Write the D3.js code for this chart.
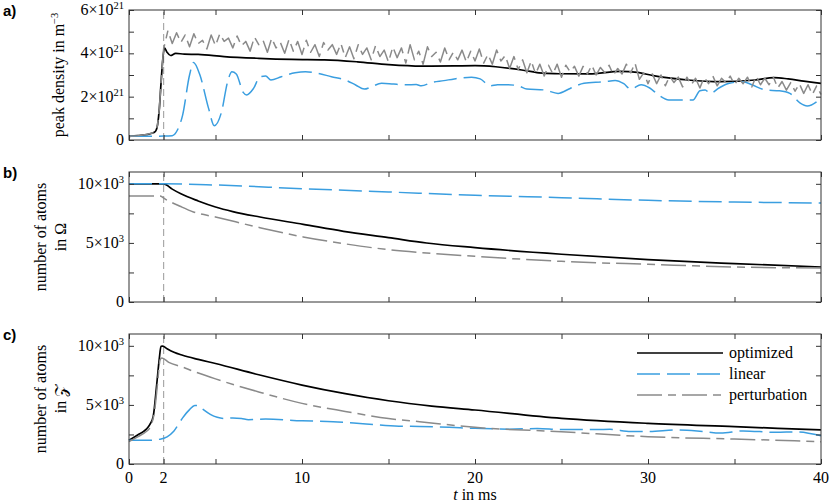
<!DOCTYPE html>
<html>
<head>
<meta charset="utf-8">
<script src="https://cdn.jsdelivr.net/npm/d3@7"></script>
<style>
  body { margin: 0; background: #fff; }
</style>
</head>
<body>
<script>
// time axis
var tTicks = [0, 2, 5, 10, 15, 20, 25, 30, 35, 40];
var tLabels = [0, 2, 10, 20, 30, 40];
var legendNames = ["optimized", "linear", "perturbation"];

// a) peak density in 1e21 m^-3
var optA_t = [0, 0.5, 1.0, 1.4, 1.55, 1.65, 1.75, 1.85, 1.95, 2.05, 2.2, 2.4, 2.7, 3.2, 4, 5.5, 7.5, 9.4, 11.3, 13.2, 15, 16.9, 18.8, 20, 21.2, 22.7, 23.7, 24.6, 26.6, 28.4, 29.4, 30.3, 32.3, 34.2, 36.2, 37.3, 38.1, 39, 40];
var optA_v = [0.17, 0.2, 0.25, 0.33, 0.42, 0.7, 1.4, 2.6, 3.7, 4.25, 4.05, 3.9, 4.0, 3.96, 3.95, 3.85, 3.77, 3.72, 3.7, 3.61, 3.48, 3.41, 3.42, 3.43, 3.38, 3.23, 3.1, 3.06, 3.05, 3.17, 3.12, 2.97, 2.77, 2.69, 2.77, 2.88, 2.82, 2.72, 2.61];
var linA_t = [0, 1, 2, 2.5, 2.8, 3.1, 3.5, 3.73, 4.1, 4.6, 4.93, 5.35, 5.7, 5.95, 6.2, 6.6, 6.8, 7.2, 7.57, 7.9, 8.2, 8.8, 9.6, 10.2, 10.9, 11.7, 12.5, 13.1, 13.6, 14.0, 14.6, 15.3, 16, 16.6, 16.9, 17.5, 18.2, 18.8, 19.8, 20.3, 20.9, 21.3, 21.9, 22.5, 23, 24, 24.8, 25.5, 26.3, 27.5, 28.1, 28.6, 29, 29.6, 30.1, 30.6, 31.2, 32, 32.6, 33, 33.3, 33.6, 34.1, 34.7, 35.5, 36, 36.8, 37.6, 38.2, 38.8, 39.2, 40];
var linA_v = [0.17, 0.17, 0.18, 0.2, 0.46, 1.15, 3.0, 3.58, 3.0, 1.46, 0.66, 1.3, 2.69, 3.15, 3.05, 2.2, 2.08, 2.38, 2.92, 2.95, 2.77, 2.92, 3.1, 3.15, 3.08, 2.92, 2.77, 2.54, 2.35, 2.45, 2.62, 2.58, 2.55, 2.56, 2.5, 2.66, 2.74, 2.82, 2.9, 2.82, 2.5, 2.55, 2.55, 2.5, 2.35, 2.31, 2.15, 2.38, 2.62, 2.69, 2.75, 2.6, 2.35, 2.55, 2.4, 2.08, 1.85, 1.85, 1.85, 2.27, 2.31, 2.15, 2.4, 2.62, 2.69, 2.55, 2.31, 2.27, 2.15, 1.7, 1.57, 1.92];
// perturbation: ramp, then samples every 0.25 ms from t = 2
var pertA_t = [0, 0.5, 1.0, 1.4, 1.55, 1.65, 1.75, 1.85, 1.95].concat(d3.range(2, 40.001, 0.25));
var pertA_v = [0.17, 0.2, 0.25, 0.33, 0.42, 0.7, 1.4, 2.6, 3.7,
  4.2, 5.05, 4.45, 4.95,  4.5, 4.85, 4.3, 4.9,  4.45, 4.6, 4.2, 4.85,  4.35, 4.9, 4.55, 4.7,
  4.25, 4.8, 4.35, 4.55,  4.1, 4.75, 4.4, 4.6,  4.05, 4.7, 4.25, 4.5,  4.0, 4.65, 4.1, 4.55,
  3.95, 4.6, 4.05, 4.4,  3.85, 4.5, 4.15, 4.4,  3.95, 4.45, 3.8, 4.3,  3.75, 4.4, 3.95, 4.25,
  3.7, 4.35, 3.85, 4.15,  3.6, 4.3, 3.8, 4.25,  3.55, 4.4, 3.7, 4.1,  3.5, 4.3, 3.85, 4.05,
  3.6, 4.25, 3.7, 4.05,  3.7, 4.15, 3.6, 4.1,  3.65, 4.2, 3.55, 3.95,  3.5, 4.15, 3.65, 3.9,
  3.3, 3.85, 3.25, 3.7,  3.1, 3.65, 3.05, 3.5,  2.95, 3.45, 3.05, 3.5,  2.9, 3.45, 3.15, 3.4,
  2.95, 3.4, 3.05, 3.45,  3.0, 3.35, 3.1, 3.45,  3.0, 3.3, 3.05, 3.5,  3.1, 3.55, 2.8, 3.1,
  2.6, 3.05, 2.6, 3.0,  2.5, 2.95, 2.65, 2.9,  2.45, 2.9, 2.55, 2.85,  2.4, 2.9, 2.6, 2.95,
  2.5, 2.85, 2.65, 2.95,  2.55, 2.85, 2.6, 2.9,  2.45, 2.95, 2.55, 2.85,  2.55, 2.9, 2.4, 2.7,
  2.3, 2.65, 2.25, 2.6,  2.15, 2.55, 2.1, 2.5,  2.1];

// b) number of atoms in Omega, 1e3
var optB_t = [0, 1, 2, 2.5, 3, 4, 5, 6, 7.57, 10.07, 12.4, 15, 17.2, 20, 25, 30, 35, 40];
var optB_v = [10, 10, 10, 9.55, 9.15, 8.55, 8.04, 7.65, 7.19, 6.57, 5.98, 5.45, 4.99, 4.6, 4.04, 3.58, 3.25, 2.96];
var linB_t = [0, 1, 2, 5, 10, 15, 20, 25, 30, 35, 40];
var linB_v = [10, 10, 10, 9.9, 9.59, 9.31, 9.03, 8.83, 8.6, 8.46, 8.38];
var pertB_t = [0, 1, 1.8, 2.1, 2.95, 3.72, 5, 7.57, 10.07, 12.4, 15, 17.2, 20, 25, 30, 35, 40];
var pertB_v = [8.97, 8.97, 8.97, 8.7, 8.1, 7.62, 7.19, 6.29, 5.5, 4.94, 4.43, 4.15, 3.87, 3.44, 3.19, 2.96, 2.88];

// c) number of atoms in Z, 1e3
var optC_t = [0, 0.5, 1.0, 1.2, 1.4, 1.6, 1.75, 1.85, 1.95, 2.2, 2.6, 3.1, 4, 5, 7.5, 10, 12.5, 15, 17.5, 20, 25, 30, 35, 40];
var optC_v = [2.0, 2.45, 2.95, 3.33, 4.03, 6.7, 8.9, 9.96, 9.98, 9.75, 9.45, 9.2, 8.85, 8.5, 7.55, 6.68, 5.95, 5.35, 4.9, 4.57, 3.86, 3.44, 3.16, 2.88];
var linC_t = [0, 1, 1.8, 2.2, 2.6, 3.1, 3.5, 3.8, 4.0, 4.3, 4.7, 5.1, 5.5, 6.0, 6.5, 6.9, 7.9, 10, 11.8, 13.7, 15.6, 16.8, 18.5, 20, 22, 23.6, 25, 27.8, 29, 30, 31.7, 33, 34.2, 35.5, 37.4, 38.6, 40];
var linC_v = [2.0, 2.0, 2.1, 2.3, 2.8, 3.9, 4.6, 4.95, 4.95, 4.6, 4.2, 3.95, 3.85, 3.9, 3.85, 3.75, 3.8, 3.66, 3.58, 3.38, 3.2, 3.18, 3.1, 3.02, 2.95, 3.0, 2.91, 2.93, 2.75, 2.75, 2.88, 2.78, 2.62, 2.8, 2.68, 2.72, 2.39];
var pertC_t = [0, 0.5, 1.0, 1.2, 1.5, 1.65, 1.8, 1.9, 2.3, 3.1, 3.7, 5, 7.5, 10, 12.5, 15, 16.8, 20, 25, 30, 35, 40];
var pertC_v = [1.9, 2.3, 2.75, 3.05, 4.74, 6.8, 8.83, 8.97, 8.6, 8.2, 7.86, 7.2, 6.1, 5.13, 4.45, 3.85, 3.58, 3.1, 2.73, 2.31, 2.11, 1.89];

var W = 831, H = 504;
var left = 129, right = 821, ph = 130;
var serif = "'Liberation Serif', 'Times New Roman', 'DejaVu Serif', serif";
var blue = "#3a9ee0", grey = "#8a8a8a", axc = "#333";
var styles = {
  opt:  { stroke: "#000", width: 1.7, dash: null },
  lin:  { stroke: blue, width: 1.5, dash: "23,7" },
  pert: { stroke: grey, width: 1.5, dash: "25,6,8,6" }
};

var svg = d3.select("body").append("svg")
    .attr("width", W)
    .attr("height", H)
    .style("font-family", serif);

function label(sel) {
  return sel.append("text").style("font-family", serif).attr("font-size", 16);
}

var x = d3.scaleLinear().domain([0, 40]).range([left, right]);

var panels = [
  { top: 10, ymax: 6, ticks: [0, 1, 2, 3, 4, 5, 6], labels: [0, 2, 4, 6], exp: "21", tag: "a)",
    series: [["opt", optA_t, optA_v], ["lin", linA_t, linA_v], ["pert", pertA_t, pertA_v, d3.curveLinear]] },
  { top: 172, ymax: 11, ticks: [0, 2.5, 5, 7.5, 10], labels: [0, 5, 10], exp: "3", tag: "b)",
    series: [["opt", optB_t, optB_v], ["lin", linB_t, linB_v], ["pert", pertB_t, pertB_v]] },
  { top: 334, ymax: 11, ticks: [0, 2.5, 5, 7.5, 10], labels: [0, 5, 10], exp: "3", tag: "c)",
    series: [["opt", optC_t, optC_v], ["lin", linC_t, linC_v], ["pert", pertC_t, pertC_v]] }
];

panels.forEach(function(p) {
  var y = d3.scaleLinear().domain([0, p.ymax]).range([p.top + ph, p.top]);
  var g = svg.append("g");

  // marker line at t = 2 ms
  g.append("line")
    .attr("x1", x(2)).attr("x2", x(2))
    .attr("y1", y(0)).attr("y2", y(p.ymax))
    .attr("stroke", "#aaa")
    .attr("stroke-width", 1.2)
    .attr("stroke-dasharray", "7,4");

  p.series.forEach(function(s) {
    var st = styles[s[0]];
    var line = d3.line()
      .x(function(d) { return x(d[0]); })
      .y(function(d) { return y(d[1]); })
      .curve(s[3] || d3.curveMonotoneX);
    g.append("path")
      .datum(d3.zip(s[1], s[2]))
      .attr("d", line)
      .attr("fill", "none")
      .attr("stroke", st.stroke)
      .attr("stroke-width", st.width)
      .attr("stroke-dasharray", st.dash)
      .attr("stroke-linejoin", "round");
  });

  // ticks on all four sides, pointing inwards
  var axes = [
    [d3.axisBottom(x).tickValues(tTicks), "translate(0," + y(0) + ")"],
    [d3.axisTop(x).tickValues(tTicks), "translate(0," + p.top + ")"],
    [d3.axisLeft(y).tickValues(p.ticks), "translate(" + left + ",0)"],
    [d3.axisRight(y).tickValues(p.ticks), "translate(" + right + ",0)"]
  ];
  axes.forEach(function(a) {
    var ax = g.append("g")
      .attr("transform", a[1])
      .call(a[0].tickSize(-5).tickFormat(""));
    ax.select(".domain").remove();
    ax.selectAll("line").attr("stroke", axc);
  });

  g.append("rect")
    .attr("x", left).attr("y", p.top)
    .attr("width", right - left).attr("height", ph)
    .attr("fill", "none")
    .attr("stroke", axc)
    .attr("stroke-width", 1);

  // y tick labels like 4x10^21
  p.labels.forEach(function(v) {
    var t = label(g)
      .attr("x", left - 5)
      .attr("y", y(v) + 5)
      .attr("text-anchor", "end");
    if (v === 0) {
      t.text("0");
    } else {
      t.append("tspan").text(v + "\u00d710");
      t.append("tspan").attr("font-size", 10.5).attr("dy", -6).text(p.exp);
    }
  });

  // panel tag
  svg.append("text")
    .attr("x", 3)
    .attr("y", p.top + 6)
    .style("font-family", "'Liberation Sans', Arial, sans-serif")
    .attr("font-weight", "bold")
    .attr("font-size", 15)
    .text(p.tag);
});

// y axis titles
var ta = label(svg)
  .attr("transform", "translate(64," + (panels[0].top + ph / 2) + ") rotate(-90)")
  .attr("text-anchor", "middle");
ta.append("tspan").text("peak density in m");
ta.append("tspan").attr("font-size", 10.5).attr("dy", -6).text("\u22123");

[[panels[1], "in \u03a9"], [panels[2], "in \ud835\udcb5"]].forEach(function(d) {
  var cy = d[0].top + ph / 2;
  label(svg)
    .attr("transform", "translate(46," + cy + ") rotate(-90)")
    .attr("text-anchor", "middle")
    .text("number of atoms");
  label(svg)
    .attr("transform", "translate(66," + cy + ") rotate(-90)")
    .attr("text-anchor", "middle")
    .text(d[1]);
});

// x tick labels and title under the last panel
var yBot = panels[2].top + ph;
tLabels.forEach(function(v) {
  label(svg)
    .attr("x", x(v))
    .attr("y", yBot + 19)
    .attr("text-anchor", "middle")
    .text(v);
});
var xt = label(svg)
  .attr("x", x(20))
  .attr("y", yBot + 36)
  .attr("text-anchor", "middle");
xt.append("tspan").attr("font-style", "italic").text("t");
xt.append("tspan").text(" in ms");

// legend in panel c
["opt", "lin", "pert"].forEach(function(k, i) {
  var ly = 353 + i * 21;
  var st = styles[k];
  svg.append("line")
    .attr("x1", 637).attr("x2", 723)
    .attr("y1", ly).attr("y2", ly)
    .attr("stroke", st.stroke)
    .attr("stroke-width", st.width)
    .attr("stroke-dasharray", st.dash);
  label(svg)
    .attr("x", 729)
    .attr("y", ly + 5)
    .text(legendNames[i]);
});
</script>
</body>
</html>
